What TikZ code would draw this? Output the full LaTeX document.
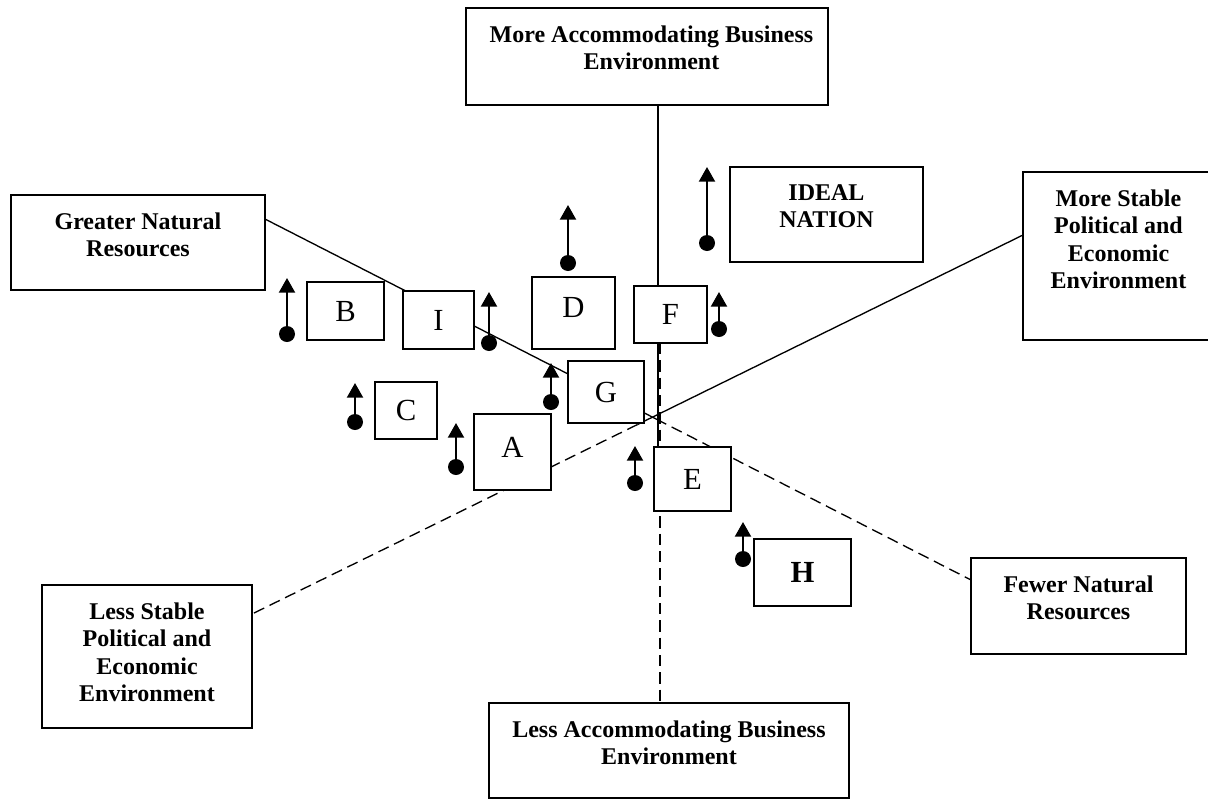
\documentclass[tikz,border=0pt]{standalone}
\usepackage{fontspec}
\setmainfont{Liberation Serif}
\usetikzlibrary{arrows.meta,calc}
\pgfdeclarelayer{background}
\pgfsetlayers{background,main}
\tikzset{
  frame/.style 2 args={draw, line width=1.1pt, fill=white, minimum width=#1*0.75pt, minimum height=#2*0.75pt, inner sep=0pt, outer sep=0pt},
  letter/.style={font=\fontsize{23}{26}\selectfont},
  heading/.style={font=\fontsize{18}{20.5}\selectfont\bfseries, align=center, anchor=north, inner sep=0pt},
  axis/.style={line width=1pt},
  axisdash/.style={line width=1pt, dash pattern=on 8.5pt off 4.5pt},
  uparrow/.style={line width=1.6pt, -{Triangle[length=11pt,width=12pt]}},
}
\newcommand\updot[3]{\fill (#1,#2) circle[radius=6pt]; \draw[uparrow] (#1,#2) -- (#1,#3);}
\begin{document}
\begin{tikzpicture}[x=0.75pt,y=-0.75pt]
\useasboundingbox (0,0) rectangle (1208,800);
\clip (0,0) rectangle (1208,800);

% large boxes
\node[frame={362}{97}] (top) at (647,56.5) {};
\node[frame={254}{95}] (GNR) at (138,242.5) {};
\node[frame={193}{95}] (ideal) at (826.5,214.5) {};
\node[frame={191}{168}] (MS) at (1118.5,256) {};
\node[frame={210}{143}] (LS) at (147,656.5) {};
\node[frame={215}{96}] (FW) at (1078.5,606) {};
\node[frame={360}{95}] (LA) at (669,750.5) {};

\node[heading] (topT) at ($(top.north)+(4.5,17.5)$) {More Accommodating Business\\Environment};
\node[heading] (GNRT) at ($(GNR.north)+(0,17.5)$) {Greater Natural\\Resources};
\node[heading] (idealT) at ($(ideal.north)+(0,17.5)$) {IDEAL\\NATION};
\node[heading] (MST) at ($(MS.north)+(0,17.5)$) {More Stable\\Political and\\Economic\\Environment};
\node[heading] (LST) at ($(LS.north)+(0,17.5)$) {Less Stable\\Political and\\Economic\\Environment};
\node[heading] (FWT) at ($(FW.north)+(0,17.5)$) {Fewer Natural\\Resources};
\node[heading] (LAT) at ($(LA.north)+(0,17.5)$) {Less Accommodating Business\\Environment};

% letter boxes
\node[frame={77}{58}, letter] (B) at (345.5,311) {B};
\node[frame={71}{58}, letter] (I) at (438.5,320) {I};
\node[frame={83}{72}, letter, text depth=9pt] (D) at (573.5,313) {D};
\node[frame={73}{57}, letter] (F) at (670.5,314.5) {F};
\node[frame={76}{62}, letter] (G) at (606,392) {G};
\node[frame={62}{57}, letter] (C) at (406,410.5) {C};
\node[frame={77}{76}, letter, text depth=7pt] (A) at (512.5,452) {A};
\node[frame={77}{64}, letter] (E) at (692.5,479) {E};
\node[frame={97}{67}, letter, font=\fontsize{23}{26}\selectfont\bfseries] (H) at (802.5,572.5) {H};

% axes behind boxes
\begin{pgfonlayer}{background}
  \coordinate (vt) at ($(top.south west)!0.53!(top.south east)$);
  \draw[axis] (vt) -- (vt |- E.north);
  \coordinate (vf) at ($(F.south west)!0.356!(F.south east)$);
  \draw[axisdash] (vf) -- (vf |- LA.north);

  \coordinate (gn) at ($(GNR.north east)!0.253!(GNR.south east)$);
  \coordinate (fw) at ($(FW.north west)!0.229!(FW.south west)$);
  \coordinate (x2) at ($(gn)!0.554!(fw)$);
  \draw[axis] (gn) -- (x2);
  \draw[axisdash] (x2) -- (fw);

  \coordinate (ms) at ($(MS.north west)!0.375!(MS.south west)$);
  \coordinate (ls) at ($(LS.north east)!0.203!(LS.south east)$);
  \coordinate (x3) at ($(ms)!0.5!(ls)$);
  \draw[axis] (ms) -- (x3);
  \draw[axisdash] (x3) -- (ls);
\end{pgfonlayer}

% up arrows with dots
\updot{287}{334}{278}
\updot{489}{343}{292}
\updot{568}{263}{205}
\updot{707}{243}{167}
\updot{719}{329}{292}
\updot{551}{402}{363}
\updot{635}{483}{446}
\updot{355}{422}{383}
\updot{456}{467}{423}
\updot{743}{559}{522}
\end{tikzpicture}
\end{document}
